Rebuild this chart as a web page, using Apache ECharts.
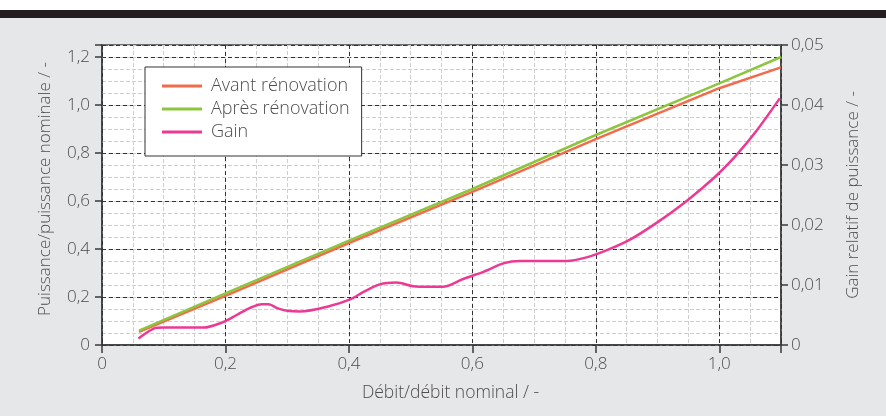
<!DOCTYPE html>
<html>
<head>
<meta charset="utf-8">
<script src="https://cdn.jsdelivr.net/npm/echarts@6/dist/echarts.min.js"></script>
<style>
  html, body { margin: 0; padding: 0; background: #fff; }
  #chart { width: 886px; height: 416px; }
</style>
</head>
<body>
<div id="chart"></div>
<script>
// values
const seriesNames = ["Avant rénovation", "Après rénovation", "Gain"];
const avantX = [0.06, 0.2, 0.4, 0.6, 0.8, 1.0, 1.1];
const avantY = [0.055, 0.205, 0.425, 0.638, 0.858, 1.07, 1.157];
const apresX = [0.06, 0.2, 0.4, 0.6, 0.8, 1.0, 1.1];
const apresY = [0.06, 0.215, 0.435, 0.65, 0.875, 1.09, 1.2];
const gainX = [0.059, 0.083, 0.099, 0.164, 0.196, 0.218, 0.24, 0.259, 0.27, 0.285, 0.3, 0.321, 0.369, 0.402, 0.423, 0.45, 0.477, 0.504, 0.531, 0.552, 0.585, 0.618, 0.65, 0.677, 0.753, 0.785, 0.818, 0.856, 0.899, 0.942, 0.974, 0.998, 1.028, 1.061, 1.098];
const gainY = [0.0011, 0.0027, 0.0029, 0.0029, 0.0038, 0.005, 0.0062, 0.0068, 0.0068, 0.0061, 0.0057, 0.0056, 0.0065, 0.0076, 0.0088, 0.0101, 0.0104, 0.0098, 0.0097, 0.0097, 0.011, 0.0122, 0.0136, 0.014, 0.014, 0.0146, 0.0158, 0.0176, 0.0204, 0.0236, 0.0263, 0.0285, 0.0317, 0.0358, 0.0411];
const colors = ["#f26b4c", "#8cc63f", "#ec3a94"];

const font = "Open Sans";
const weight = 300;
const textColor = "#4d4d4d";
const axisColor = "#3a3a3a";

const fmt = (digits) => (v) => (v === 0 ? "0" : v.toFixed(digits).replace(".", ","));
const onStep = (v, step) => Math.abs(v / step - Math.round(v / step)) < 1e-6;
const zip = (xs, ys) => xs.map((x, i) => [x, ys[i]]);

const chart = echarts.init(document.getElementById("chart"));

const minorSplit = {
  show: true,
  lineStyle: { color: "#cfcfcf", type: [4, 2], width: 1 },
};
const majorSplit = {
  show: true,
  lineStyle: { color: "#333", type: [4, 3], width: 1 },
};

const options = {
  backgroundColor: "#e6e7e8",
  animation: false,
  textStyle: { fontFamily: font, color: textColor, fontWeight: weight },
  graphic: [
    { type: "rect", left: 0, top: 0, shape: { width: 886, height: 10 }, style: { fill: "#fff" } },
    { type: "rect", left: 0, top: 10, shape: { width: 886, height: 8 }, style: { fill: "#231f20" } },
  ],
  grid: {
    left: 102,
    right: 105,
    top: 45,
    bottom: 71,
    show: true,
    backgroundColor: "#fff",
    borderColor: "#444",
    borderWidth: 1.5,
  },
  legend: {
    data: seriesNames,
    orient: "vertical",
    left: 145,
    top: 67,
    backgroundColor: "#fff",
    borderColor: "#333",
    borderWidth: 1,
    borderRadius: 0,
    padding: [10, 12, 15, 17],
    itemGap: 5,
    itemWidth: 40,
    itemHeight: 3,
    icon: "rect",
    textStyle: { fontFamily: font, fontWeight: weight, fontSize: 18, color: textColor, lineHeight: 18, padding: [0, 0, 0, 4] },
  },
  xAxis: [
    {
      // minor grid
      type: "value", min: 0, max: 1.1, interval: 0.05, position: "bottom",
      axisLine: { show: false }, axisTick: { show: false }, axisLabel: { show: false },
      splitLine: minorSplit,
    },
    {
      type: "value", min: 0, max: 1.1, interval: 0.2, position: "bottom",
      name: "Débit/débit nominal / -",
      nameLocation: "middle",
      nameGap: 39,
      nameTextStyle: { fontFamily: font, fontWeight: weight, fontSize: 17.5, color: textColor, padding: [0, 0, 0, 18] },
      axisLine: { show: true, lineStyle: { color: axisColor, width: 1.5 } },
      axisTick: { show: true, length: 8, lineStyle: { color: axisColor, width: 1.5 } },
      axisLabel: {
        fontFamily: font, fontWeight: weight, fontSize: 17, color: textColor, margin: 11,
        formatter: (v) => (onStep(v, 0.2) ? fmt(1)(v) : ""),
      },
      splitLine: majorSplit,
    },
  ],
  yAxis: [
    {
      // minor grid
      type: "value", min: 0, max: 1.25, interval: 0.05, position: "left",
      axisLine: { show: false }, axisTick: { show: false }, axisLabel: { show: false },
      splitLine: minorSplit,
    },
    {
      type: "value", min: 0, max: 1.25, interval: 0.2, position: "left",
      name: "Puissance/puissance nominale / -",
      nameLocation: "middle",
      nameGap: 48,
      nameRotate: 90,
      nameTextStyle: { fontFamily: font, fontWeight: weight, fontSize: 17, color: textColor, padding: [0, 0, 0, 12] },
      axisLine: { show: true, lineStyle: { color: axisColor, width: 1.5 } },
      axisTick: { show: true, length: 7, lineStyle: { color: axisColor, width: 1.5 } },
      axisLabel: {
        fontFamily: font, fontWeight: weight, fontSize: 17, color: textColor, margin: 12,
        formatter: (v) => (onStep(v, 0.2) ? fmt(1)(v) : ""),
      },
      splitLine: majorSplit,
    },
    {
      type: "value", min: 0, max: 0.05, interval: 0.01, position: "right",
      name: "Gain relatif de puissance / -",
      nameLocation: "middle",
      nameGap: 64,
      nameRotate: 90,
      nameTextStyle: { fontFamily: font, fontWeight: weight, fontSize: 17, color: textColor },
      axisLine: { show: true, lineStyle: { color: axisColor, width: 1.5 } },
      axisTick: { show: true, length: 7, lineStyle: { color: axisColor, width: 1.5 } },
      axisLabel: { fontFamily: font, fontWeight: weight, fontSize: 17, color: textColor, margin: 10, formatter: fmt(2) },
      splitLine: { show: false },
    },
  ],
  series: [
    {
      name: seriesNames[0], type: "line", xAxisIndex: 1, yAxisIndex: 1,
      data: zip(avantX, avantY), showSymbol: false, color: colors[0],
      lineStyle: { width: 2.5, color: colors[0] }, z: 3,
    },
    {
      name: seriesNames[1], type: "line", xAxisIndex: 1, yAxisIndex: 1,
      data: zip(apresX, apresY), showSymbol: false, color: colors[1],
      lineStyle: { width: 2.5, color: colors[1] }, z: 4,
    },
    {
      name: seriesNames[2], type: "line", xAxisIndex: 1, yAxisIndex: 2,
      data: zip(gainX, gainY), showSymbol: false, color: colors[2],
      smooth: 0.3,
      lineStyle: { width: 2.5, color: colors[2] }, z: 5,
    },
  ],
};

chart.setOption(options);
</script>
</body>
</html>
